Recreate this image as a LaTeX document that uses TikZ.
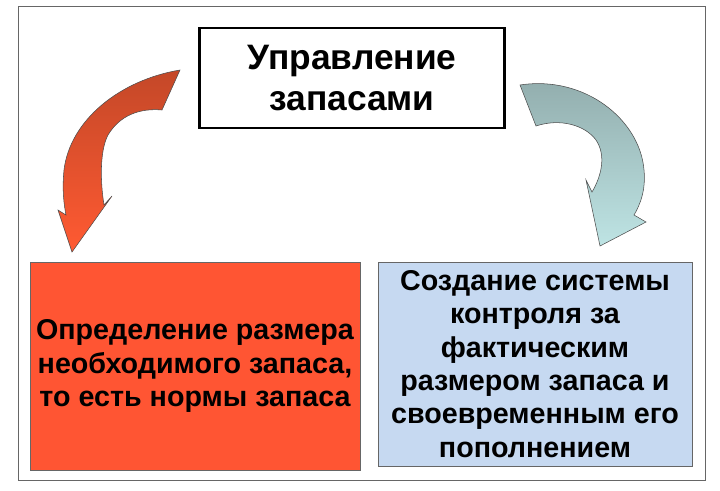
\documentclass[tikz,border=0pt]{standalone}
\usepackage{fontspec}
\setmainfont{Liberation Sans}
\begin{document}
\begin{tikzpicture}[x=0.75pt,y=-0.75pt,
  box/.style={draw=black!60, line width=0.6pt, align=center, font=\bfseries\fontsize{21.5}{25}\selectfont, inner sep=0pt},
  arr/.style={draw=black!70, line width=0.4pt}]
\useasboundingbox (0,0) rectangle (720,490);
\draw[black!60, line width=0.6pt] (18,6) rectangle (705,480);
\node[draw=black, line width=2pt, inner sep=0pt, align=center, font=\bfseries\fontsize{26.5}{31}\selectfont, minimum height=75pt, minimum width=229pt] (t) at (352,78) {Управление\\запасами};
\node[box, fill={rgb,255:red,255;green,85;blue,51}, minimum width=247.5pt, minimum height=156pt] (l) at (195,366) {Определение размера\\необходимого запаса,\\то есть нормы запаса};
\node[box, fill={rgb,255:red,198;green,217;blue,241}, minimum width=235.5pt, minimum height=153pt] (r) at (535,364) {Создание системы\\контроля за\\фактическим\\размером запаса и\\своевременным его\\пополнением};
% left arrow
\draw[arr, top color={rgb,255:red,196;green,72;blue,40}, bottom color={rgb,255:red,255;green,90;blue,50}]
 (180,70) .. controls (120,80) and (70,120) .. (64,170)
 .. controls (62,190) and (64,205) .. (66,215)
 -- (58,210) -- (72,252) -- (112,196) -- (104,205)
 .. controls (100,180) and (100,150) .. (108,135)
 .. controls (120,115) and (140,108) .. (162,110) -- cycle;
% right arrow
\draw[arr, top color={rgb,255:red,145;green,172;blue,172}, bottom color={rgb,255:red,190;green,228;blue,228}]
 (520,85) .. controls (585,75) and (640,120) .. (644,170)
 .. controls (646,190) and (640,205) .. (634,215)
 -- (646,222) -- (600,246) -- (586,180) -- (592,192)
 .. controls (602,175) and (606,155) .. (596,140)
 .. controls (585,125) and (560,118) .. (536,126) -- cycle;
\end{tikzpicture}
\end{document}
